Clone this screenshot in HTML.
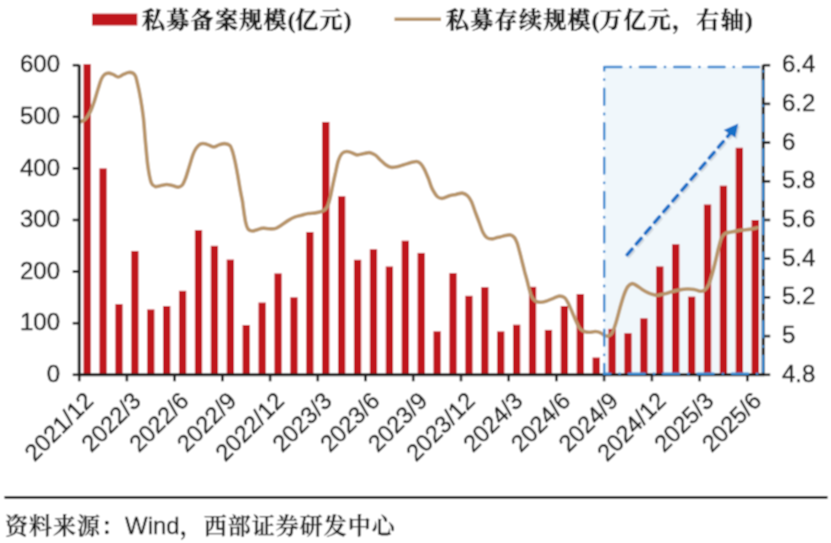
<!DOCTYPE html>
<html><head><meta charset="utf-8"><style>
html,body{margin:0;padding:0;background:#fff;width:831px;height:543px;overflow:hidden}
svg{display:block}
.ax{font-family:"Liberation Sans",Arial,sans-serif;font-size:24px;fill:#222;stroke:#222;stroke-width:0.45px;stroke-linejoin:round}
.xl{font-size:23.6px}
.lg{font-family:"Liberation Serif","Noto Serif CJK SC",serif;font-size:23px;font-weight:700;fill:#1a1a1a;letter-spacing:1.3px;stroke:#1a1a1a;stroke-width:0.4px;stroke-linejoin:round}
.pp{letter-spacing:-0.3px}
.src{font-family:"Liberation Sans","Noto Serif CJK SC",serif;font-size:23px;font-weight:600;fill:#1a1a1a;letter-spacing:1.0px;stroke:#1a1a1a;stroke-width:0.3px;stroke-linejoin:round}
.w{font-weight:400;font-size:24px;letter-spacing:0}
</style></head><body>
<svg width="831" height="543" viewBox="0 0 831 543">
<defs><filter id="bl" x="0" y="0" width="831" height="543" filterUnits="userSpaceOnUse"><feConvolveMatrix order="3" kernelMatrix="1 2 1 2 4 2 1 2 1" divisor="16" edgeMode="duplicate"/></filter></defs>
<g filter="url(#bl)"><rect width="831" height="543" fill="#fff"/>
<rect x="604.2" y="67.0" width="159.0" height="307.8" fill="#f0f7fb"/>
<rect x="83.50" y="64.17" width="7.3" height="310.63" fill="#c0141f"/>
<rect x="99.41" y="168.40" width="7.3" height="206.40" fill="#c0141f"/>
<rect x="115.32" y="304.11" width="7.3" height="70.69" fill="#c0141f"/>
<rect x="131.22" y="250.96" width="7.3" height="123.84" fill="#c0141f"/>
<rect x="147.13" y="309.42" width="7.3" height="65.38" fill="#c0141f"/>
<rect x="163.04" y="306.02" width="7.3" height="68.78" fill="#c0141f"/>
<rect x="178.95" y="290.80" width="7.3" height="84.00" fill="#c0141f"/>
<rect x="194.85" y="230.11" width="7.3" height="144.69" fill="#c0141f"/>
<rect x="210.76" y="245.80" width="7.3" height="129.00" fill="#c0141f"/>
<rect x="226.67" y="259.58" width="7.3" height="115.22" fill="#c0141f"/>
<rect x="242.57" y="325.01" width="7.3" height="49.79" fill="#c0141f"/>
<rect x="258.48" y="302.56" width="7.3" height="72.24" fill="#c0141f"/>
<rect x="274.39" y="273.41" width="7.3" height="101.39" fill="#c0141f"/>
<rect x="290.29" y="297.30" width="7.3" height="77.50" fill="#c0141f"/>
<rect x="306.20" y="232.02" width="7.3" height="142.78" fill="#c0141f"/>
<rect x="322.11" y="121.96" width="7.3" height="252.84" fill="#c0141f"/>
<rect x="338.02" y="196.26" width="7.3" height="178.54" fill="#c0141f"/>
<rect x="353.92" y="259.78" width="7.3" height="115.02" fill="#c0141f"/>
<rect x="369.83" y="249.21" width="7.3" height="125.59" fill="#c0141f"/>
<rect x="385.74" y="266.49" width="7.3" height="108.31" fill="#c0141f"/>
<rect x="401.64" y="240.69" width="7.3" height="134.11" fill="#c0141f"/>
<rect x="417.55" y="252.92" width="7.3" height="121.88" fill="#c0141f"/>
<rect x="433.46" y="331.30" width="7.3" height="43.50" fill="#c0141f"/>
<rect x="449.36" y="273.10" width="7.3" height="101.70" fill="#c0141f"/>
<rect x="465.27" y="295.80" width="7.3" height="79.00" fill="#c0141f"/>
<rect x="481.18" y="287.18" width="7.3" height="87.62" fill="#c0141f"/>
<rect x="497.08" y="331.40" width="7.3" height="43.40" fill="#c0141f"/>
<rect x="512.99" y="324.70" width="7.3" height="50.10" fill="#c0141f"/>
<rect x="528.90" y="286.82" width="7.3" height="87.98" fill="#c0141f"/>
<rect x="544.81" y="329.91" width="7.3" height="44.89" fill="#c0141f"/>
<rect x="560.71" y="306.02" width="7.3" height="68.78" fill="#c0141f"/>
<rect x="576.62" y="294.05" width="7.3" height="80.75" fill="#c0141f"/>
<rect x="592.53" y="357.51" width="7.3" height="17.29" fill="#c0141f"/>
<rect x="608.43" y="328.88" width="7.3" height="45.92" fill="#c0141f"/>
<rect x="624.34" y="333.21" width="7.3" height="41.59" fill="#c0141f"/>
<rect x="640.25" y="318.30" width="7.3" height="56.50" fill="#c0141f"/>
<rect x="656.15" y="266.44" width="7.3" height="108.36" fill="#c0141f"/>
<rect x="672.06" y="244.25" width="7.3" height="130.55" fill="#c0141f"/>
<rect x="687.97" y="296.63" width="7.3" height="78.17" fill="#c0141f"/>
<rect x="703.88" y="204.52" width="7.3" height="170.28" fill="#c0141f"/>
<rect x="719.78" y="185.69" width="7.3" height="189.11" fill="#c0141f"/>
<rect x="735.69" y="147.76" width="7.3" height="227.04" fill="#c0141f"/>
<rect x="751.60" y="220.00" width="7.3" height="154.80" fill="#c0141f"/>
<path d="M80.8,121.7 C81.6,121.3 83.7,120.8 85.3,119.1 C86.9,117.4 89.0,114.4 90.5,111.4 C92.0,108.4 93.1,104.9 94.4,101.1 C95.7,97.3 97.0,92.2 98.2,88.5 C99.4,84.8 100.4,81.2 101.5,78.8 C102.6,76.5 103.5,75.4 104.7,74.4 C105.9,73.4 107.2,73.1 108.6,73.1 C110.0,73.1 111.5,73.8 113.1,74.4 C114.7,75.1 116.5,77.0 118.2,77.0 C119.9,77.0 121.7,75.2 123.4,74.4 C125.1,73.7 126.9,72.7 128.5,72.5 C130.1,72.3 131.8,72.5 133.0,73.1 C134.2,73.8 134.7,74.1 135.6,76.4 C136.5,78.7 137.3,82.8 138.2,86.7 C139.1,90.6 139.9,94.8 140.8,100.0 C141.7,105.2 142.6,111.0 143.4,117.9 C144.2,124.8 144.6,133.1 145.4,141.3 C146.2,149.5 147.0,160.2 148.0,167.1 C149.0,174.0 150.0,179.4 151.2,182.6 C152.4,185.8 153.6,186.0 155.1,186.5 C156.6,187.0 158.3,186.1 160.2,185.8 C162.1,185.5 164.6,184.5 166.7,184.5 C168.9,184.5 171.2,185.4 173.1,185.8 C175.0,186.2 176.8,187.2 178.3,187.1 C179.8,187.0 181.0,186.6 182.2,185.2 C183.4,183.8 184.2,181.8 185.4,178.7 C186.6,175.6 187.9,170.9 189.2,166.8 C190.5,162.8 191.9,157.5 193.1,154.4 C194.3,151.3 195.1,149.7 196.3,148.0 C197.5,146.3 198.8,144.8 200.2,144.1 C201.6,143.4 203.3,143.5 204.7,143.7 C206.2,143.9 207.4,144.6 208.9,145.1 C210.4,145.6 212.1,146.9 213.8,146.9 C215.5,146.9 217.1,145.5 218.9,144.9 C220.7,144.3 222.9,143.5 224.7,143.6 C226.5,143.7 228.6,144.3 229.9,145.6 C231.2,146.9 231.6,148.7 232.5,151.4 C233.4,154.1 234.2,157.8 235.1,161.7 C235.9,165.6 236.7,169.8 237.6,174.6 C238.5,179.4 239.5,186.0 240.3,190.4 C241.1,194.8 241.9,198.2 242.4,200.9 C242.9,203.7 242.7,203.3 243.2,206.9 C243.7,210.5 244.8,218.5 245.6,222.2 C246.4,225.9 247.0,227.6 248.1,229.1 C249.2,230.6 250.5,230.9 252.0,231.0 C253.5,231.1 255.4,230.2 257.2,229.7 C259.0,229.2 261.0,228.2 263.0,228.1 C265.0,227.9 267.2,228.8 269.4,228.8 C271.5,228.9 273.8,229.1 275.9,228.4 C278.0,227.7 280.1,226.0 282.3,224.6 C284.4,223.2 286.6,221.4 288.8,220.1 C290.9,218.8 293.1,217.7 295.2,216.9 C297.3,216.1 299.4,215.8 301.6,215.2 C303.8,214.7 306.0,214.0 308.3,213.6 C310.6,213.2 313.2,213.3 315.6,212.9 C318.0,212.5 321.0,211.8 322.9,210.9 C324.8,210.0 326.0,209.3 327.1,207.2 C328.3,205.1 329.1,202.1 330.0,198.4 C331.0,194.7 331.9,189.5 332.8,185.1 C333.7,180.7 334.7,176.0 335.7,171.8 C336.6,167.6 337.4,163.2 338.5,160.1 C339.5,157.0 340.8,154.8 342.1,153.4 C343.4,152.0 344.9,151.6 346.5,151.5 C348.1,151.4 350.0,152.1 351.7,152.7 C353.4,153.3 355.1,154.7 356.8,154.9 C358.5,155.1 360.3,154.2 362.0,153.9 C363.7,153.6 365.7,153.1 367.1,152.9 C368.5,152.7 368.9,152.4 370.3,152.8 C371.7,153.2 373.7,153.9 375.4,155.1 C377.1,156.3 378.9,158.6 380.6,160.2 C382.3,161.8 384.0,163.5 385.7,164.7 C387.4,165.9 389.0,167.0 390.9,167.3 C392.8,167.6 395.2,167.1 397.3,166.7 C399.4,166.3 401.6,165.4 403.8,164.7 C406.0,164.1 408.1,163.3 410.2,162.8 C412.4,162.3 415.0,161.4 416.7,161.5 C418.4,161.6 419.2,162.2 420.5,163.5 C421.8,164.8 423.1,166.8 424.4,169.3 C425.7,171.8 427.0,175.1 428.3,178.3 C429.6,181.5 430.5,185.5 432.1,188.6 C433.7,191.7 436.0,195.4 437.8,197.0 C439.6,198.6 441.1,198.5 443.0,198.3 C444.9,198.1 447.2,196.4 449.4,195.7 C451.6,195.1 453.8,194.8 455.9,194.4 C458.1,194.0 460.4,192.9 462.3,193.1 C464.2,193.3 466.0,194.3 467.5,195.7 C469.0,197.1 470.1,198.8 471.4,201.5 C472.7,204.2 473.9,208.4 475.2,211.8 C476.5,215.2 477.8,218.8 479.1,222.2 C480.4,225.7 481.7,229.9 483.0,232.5 C484.3,235.1 485.3,236.5 486.8,237.6 C488.3,238.7 490.3,238.9 492.0,238.9 C493.7,238.9 495.7,237.9 497.1,237.6 C498.5,237.3 498.9,237.2 500.3,236.9 C501.7,236.6 503.7,235.9 505.4,235.6 C507.1,235.3 509.1,234.6 510.6,234.9 C512.1,235.2 513.3,236.2 514.4,237.5 C515.5,238.8 516.1,240.3 517.0,242.7 C517.9,245.1 518.7,248.5 519.6,251.7 C520.5,254.9 521.3,258.6 522.2,262.0 C523.1,265.4 524.0,269.1 524.8,272.3 C525.7,275.5 526.6,278.5 527.3,281.3 C528.0,284.1 528.5,286.4 529.2,288.9 C529.9,291.4 530.5,294.4 531.5,296.4 C532.5,298.4 533.9,299.9 535.4,300.9 C536.9,301.9 538.7,302.2 540.6,302.2 C542.5,302.2 544.9,301.5 547.0,300.9 C549.1,300.2 551.5,299.1 553.5,298.3 C555.5,297.5 557.5,296.2 559.3,296.1 C561.2,296.0 563.1,296.5 564.6,297.7 C566.1,298.9 567.1,301.0 568.4,303.5 C569.7,306.0 571.0,309.5 572.3,312.5 C573.6,315.5 574.9,318.8 576.2,321.5 C577.5,324.2 578.5,326.9 580.0,328.6 C581.5,330.3 583.5,331.2 585.2,331.8 C586.8,332.4 588.2,332.3 589.9,332.3 C591.6,332.2 593.6,331.4 595.4,331.5 C597.2,331.6 599.1,332.1 600.6,332.8 C602.1,333.4 603.1,334.9 604.4,335.4 C605.7,335.9 607.0,336.4 608.3,336.0 C609.6,335.6 610.9,335.0 612.2,332.8 C613.5,330.5 614.7,326.6 616.0,322.5 C617.3,318.4 618.6,312.8 619.9,308.3 C621.2,303.8 622.5,299.0 623.8,295.4 C625.1,291.8 626.2,288.9 627.6,286.9 C629.0,284.9 630.7,283.8 632.2,283.6 C633.7,283.4 635.1,284.7 636.7,285.6 C638.3,286.5 639.9,288.0 641.8,289.2 C643.7,290.4 646.6,292.0 648.3,292.8 C650.0,293.6 650.6,293.8 652.1,294.2 C653.6,294.6 655.4,295.4 657.5,295.3 C659.6,295.2 662.4,294.4 664.8,293.8 C667.3,293.2 669.7,292.2 672.2,291.6 C674.7,290.9 677.2,290.3 679.6,289.9 C682.0,289.5 684.4,289.1 686.9,289.0 C689.4,288.9 692.1,289.0 694.3,289.4 C696.5,289.8 698.5,291.2 700.2,291.3 C701.9,291.4 703.0,291.4 704.5,290.2 C706.0,289.0 707.5,287.2 708.9,284.3 C710.2,281.3 711.5,276.4 712.6,272.5 C713.7,268.6 714.6,264.7 715.6,260.7 C716.6,256.7 717.5,252.0 718.5,248.2 C719.5,244.4 720.4,240.4 721.5,237.9 C722.6,235.4 723.6,234.5 725.2,233.5 C726.8,232.5 728.9,232.5 731.1,232.0 C733.3,231.5 735.9,231.0 738.4,230.6 C740.9,230.2 743.6,230.0 745.8,229.7 C748.0,229.5 749.8,229.3 751.7,229.0 C753.6,228.7 756.4,227.9 757.3,227.7" fill="none" stroke="#b8956a" stroke-width="3.6" stroke-linejoin="round" stroke-linecap="round"/>
<line x1="79.2" y1="64.7" x2="79.2" y2="375.8" stroke="#1c1c1c" stroke-width="3.0"/>
<line x1="763.2" y1="64.7" x2="763.2" y2="375.8" stroke="#1c1c1c" stroke-width="3.0"/>
<line x1="78.2" y1="374.8" x2="764.2" y2="374.8" stroke="#1c1c1c" stroke-width="3.0"/>
<line x1="72.7" y1="374.8" x2="79.2" y2="374.8" stroke="#1c1c1c" stroke-width="2.6"/>
<text x="60" y="382.0" text-anchor="end" class="ax">0</text>
<line x1="72.7" y1="323.2" x2="79.2" y2="323.2" stroke="#1c1c1c" stroke-width="2.6"/>
<text x="60" y="330.4" text-anchor="end" class="ax">100</text>
<line x1="72.7" y1="271.6" x2="79.2" y2="271.6" stroke="#1c1c1c" stroke-width="2.6"/>
<text x="60" y="278.8" text-anchor="end" class="ax">200</text>
<line x1="72.7" y1="220.0" x2="79.2" y2="220.0" stroke="#1c1c1c" stroke-width="2.6"/>
<text x="60" y="227.2" text-anchor="end" class="ax">300</text>
<line x1="72.7" y1="168.4" x2="79.2" y2="168.4" stroke="#1c1c1c" stroke-width="2.6"/>
<text x="60" y="175.6" text-anchor="end" class="ax">400</text>
<line x1="72.7" y1="116.8" x2="79.2" y2="116.8" stroke="#1c1c1c" stroke-width="2.6"/>
<text x="60" y="124.0" text-anchor="end" class="ax">500</text>
<line x1="72.7" y1="65.2" x2="79.2" y2="65.2" stroke="#1c1c1c" stroke-width="2.6"/>
<text x="60" y="72.4" text-anchor="end" class="ax">600</text>
<line x1="763.2" y1="374.8" x2="770.2" y2="374.8" stroke="#1c1c1c" stroke-width="2.6"/>
<text x="782" y="381.7" class="ax">4.8</text>
<line x1="763.2" y1="336.1" x2="770.2" y2="336.1" stroke="#1c1c1c" stroke-width="2.6"/>
<text x="782" y="343.0" class="ax">5</text>
<line x1="763.2" y1="297.4" x2="770.2" y2="297.4" stroke="#1c1c1c" stroke-width="2.6"/>
<text x="782" y="304.3" class="ax">5.2</text>
<line x1="763.2" y1="258.7" x2="770.2" y2="258.7" stroke="#1c1c1c" stroke-width="2.6"/>
<text x="782" y="265.6" class="ax">5.4</text>
<line x1="763.2" y1="220.0" x2="770.2" y2="220.0" stroke="#1c1c1c" stroke-width="2.6"/>
<text x="782" y="226.9" class="ax">5.6</text>
<line x1="763.2" y1="181.3" x2="770.2" y2="181.3" stroke="#1c1c1c" stroke-width="2.6"/>
<text x="782" y="188.2" class="ax">5.8</text>
<line x1="763.2" y1="142.6" x2="770.2" y2="142.6" stroke="#1c1c1c" stroke-width="2.6"/>
<text x="782" y="149.5" class="ax">6</text>
<line x1="763.2" y1="103.9" x2="770.2" y2="103.9" stroke="#1c1c1c" stroke-width="2.6"/>
<text x="782" y="110.8" class="ax">6.2</text>
<line x1="763.2" y1="65.2" x2="770.2" y2="65.2" stroke="#1c1c1c" stroke-width="2.6"/>
<text x="782" y="72.1" class="ax">6.4</text>
<line x1="79.2" y1="374.8" x2="79.2" y2="381.3" stroke="#1c1c1c" stroke-width="2.6"/>
<text transform="translate(94.7,402.3) rotate(-45)" text-anchor="end" class="ax xl">2021/12</text>
<line x1="126.9" y1="374.8" x2="126.9" y2="381.3" stroke="#1c1c1c" stroke-width="2.6"/>
<text transform="translate(142.4,402.3) rotate(-45)" text-anchor="end" class="ax xl">2022/3</text>
<line x1="174.6" y1="374.8" x2="174.6" y2="381.3" stroke="#1c1c1c" stroke-width="2.6"/>
<text transform="translate(190.1,402.3) rotate(-45)" text-anchor="end" class="ax xl">2022/6</text>
<line x1="222.4" y1="374.8" x2="222.4" y2="381.3" stroke="#1c1c1c" stroke-width="2.6"/>
<text transform="translate(237.8,402.3) rotate(-45)" text-anchor="end" class="ax xl">2022/9</text>
<line x1="270.1" y1="374.8" x2="270.1" y2="381.3" stroke="#1c1c1c" stroke-width="2.6"/>
<text transform="translate(285.5,402.3) rotate(-45)" text-anchor="end" class="ax xl">2022/12</text>
<line x1="317.8" y1="374.8" x2="317.8" y2="381.3" stroke="#1c1c1c" stroke-width="2.6"/>
<text transform="translate(333.3,402.3) rotate(-45)" text-anchor="end" class="ax xl">2023/3</text>
<line x1="365.5" y1="374.8" x2="365.5" y2="381.3" stroke="#1c1c1c" stroke-width="2.6"/>
<text transform="translate(381.0,402.3) rotate(-45)" text-anchor="end" class="ax xl">2023/6</text>
<line x1="413.2" y1="374.8" x2="413.2" y2="381.3" stroke="#1c1c1c" stroke-width="2.6"/>
<text transform="translate(428.7,402.3) rotate(-45)" text-anchor="end" class="ax xl">2023/9</text>
<line x1="461.0" y1="374.8" x2="461.0" y2="381.3" stroke="#1c1c1c" stroke-width="2.6"/>
<text transform="translate(476.4,402.3) rotate(-45)" text-anchor="end" class="ax xl">2023/12</text>
<line x1="508.7" y1="374.8" x2="508.7" y2="381.3" stroke="#1c1c1c" stroke-width="2.6"/>
<text transform="translate(524.1,402.3) rotate(-45)" text-anchor="end" class="ax xl">2024/3</text>
<line x1="556.4" y1="374.8" x2="556.4" y2="381.3" stroke="#1c1c1c" stroke-width="2.6"/>
<text transform="translate(571.9,402.3) rotate(-45)" text-anchor="end" class="ax xl">2024/6</text>
<line x1="604.1" y1="374.8" x2="604.1" y2="381.3" stroke="#1c1c1c" stroke-width="2.6"/>
<text transform="translate(619.6,402.3) rotate(-45)" text-anchor="end" class="ax xl">2024/9</text>
<line x1="651.9" y1="374.8" x2="651.9" y2="381.3" stroke="#1c1c1c" stroke-width="2.6"/>
<text transform="translate(667.3,402.3) rotate(-45)" text-anchor="end" class="ax xl">2024/12</text>
<line x1="699.6" y1="374.8" x2="699.6" y2="381.3" stroke="#1c1c1c" stroke-width="2.6"/>
<text transform="translate(715.0,402.3) rotate(-45)" text-anchor="end" class="ax xl">2025/3</text>
<line x1="747.3" y1="374.8" x2="747.3" y2="381.3" stroke="#1c1c1c" stroke-width="2.6"/>
<text transform="translate(762.7,402.3) rotate(-45)" text-anchor="end" class="ax xl">2025/6</text>
<line x1="604.2" y1="67.0" x2="763.2" y2="67.0" stroke="#388bd1" stroke-width="2.4" stroke-linecap="round" stroke-dasharray="16 9 0.4 9" stroke-dashoffset="33.20"/>
<line x1="763.2" y1="67.0" x2="763.2" y2="373.8" stroke="#388bd1" stroke-width="2.4" stroke-linecap="round" stroke-dasharray="16 9 0.4 9" stroke-dashoffset="20.90"/>
<line x1="763.2" y1="373.8" x2="604.2" y2="373.8" stroke="#388bd1" stroke-width="2.4" stroke-linecap="round" stroke-dasharray="16 9 0.4 9" stroke-dashoffset="19.20"/>
<line x1="604.2" y1="373.8" x2="604.2" y2="67.0" stroke="#388bd1" stroke-width="2.4" stroke-linecap="round" stroke-dasharray="16 9 0.4 9" stroke-dashoffset="6.20"/>
<g transform="translate(1.6,1.8)" opacity="0.1"><line x1="627.2" y1="254.7" x2="731.5" y2="131.8" stroke="#000" stroke-width="3.4" stroke-dasharray="7.4 6.7" stroke-linecap="round"/><polygon points="738.3,123.6 723.7,129.9 735.3,137.6" fill="#000"/></g>
<g transform="translate(0,0)" opacity="1"><line x1="627.2" y1="254.7" x2="731.5" y2="131.8" stroke="#1670c8" stroke-width="3.4" stroke-dasharray="7.4 6.7" stroke-linecap="round"/><polygon points="738.3,123.6 723.7,129.9 735.3,137.6" fill="#1670c8"/></g>
<rect x="92" y="13.6" width="45.3" height="11.9" fill="#c0141f"/>
<line x1="394.5" y1="19.3" x2="441" y2="19.3" stroke="#b8956a" stroke-width="3.5"/>
<text x="142" y="27.5" class="lg">私募备案规模<tspan class="pp">(</tspan>亿元<tspan class="pp">)</tspan></text>
<text x="446" y="27.5" class="lg">私募存续规模<tspan class="pp">(</tspan>万亿元，右轴<tspan class="pp">)</tspan></text>
<line x1="5.5" y1="497.4" x2="826.5" y2="497.4" stroke="#1e1e1e" stroke-width="2.6" stroke-linecap="round"/>
<text x="5" y="533.5" class="src">资料来源：<tspan class="w">Wind</tspan>，西部证券研发中心</text>
</g></svg>
</body></html>
